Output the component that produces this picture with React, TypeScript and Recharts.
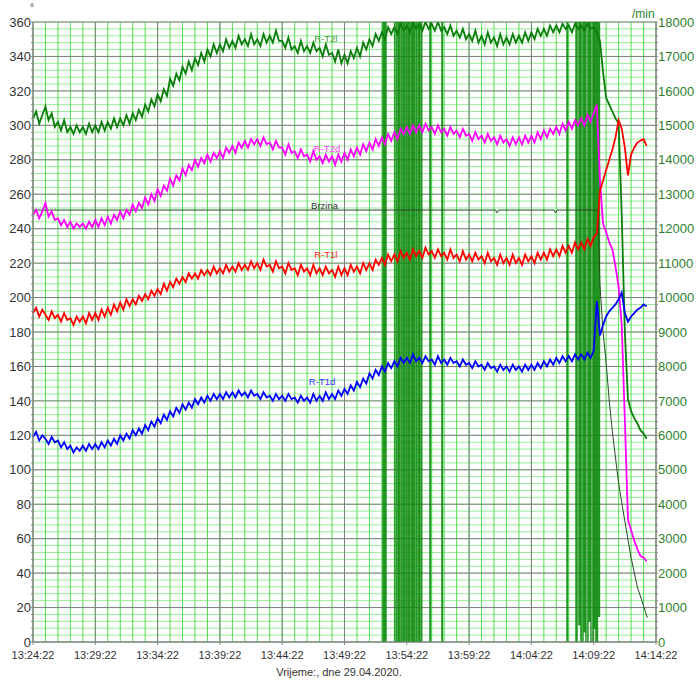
import React from 'react';
import { LineChart, Line, XAxis, YAxis, CartesianGrid, ReferenceDot } from 'recharts';

const FONT = '"Liberation Sans", Arial, sans-serif';

// temperatures (deg), one sample every 15 s from 13:24:22
const T2L = [
  304, 308, 301, 306, 311, 303, 307, 299, 302, 297, 303, 296, 299, 295, 300, 296,
  299, 295, 301, 296, 300, 296, 302, 297, 302, 298, 304, 299, 304, 300, 306, 301,
  307, 303, 309, 305, 312, 308, 315, 311, 318, 314, 321, 317, 327, 323, 330, 326,
  334, 330, 337, 332, 339, 335, 342, 337, 344, 340, 347, 342, 347, 343, 350, 345,
  349, 345, 352, 347, 350, 346, 353, 347, 350, 346, 353, 348, 352, 348, 355, 349,
  349, 345, 351, 344, 346, 342, 349, 343, 346, 342, 348, 343, 345, 340, 347, 341,
  342, 337, 344, 336, 341, 336, 343, 339, 345, 340, 348, 344, 350, 346, 353, 349,
  354, 350, 357, 353, 357, 353, 359, 355, 358, 354, 360, 356, 359, 355, 360, 356,
  359, 355, 360, 355, 357, 353, 358, 352, 355, 351, 356, 350, 353, 349, 355, 348,
  352, 347, 354, 348, 351, 346, 353, 347, 351, 347, 353, 348, 352, 348, 354, 349,
  354, 350, 356, 352, 356, 352, 358, 354, 358, 354, 359, 356, 358, 354, 359, 356,
  358, 355, 359, 356, 357, 354, 349, 331, 316, 312, 308, 304, 301, 248, 180, 141,
  134, 130, 127, 123, 121, 118,
];
const T2D = [
  248, 251, 246, 250, 255, 247, 250, 245, 246, 242, 245, 241, 244, 240, 243, 241,
  243, 240, 244, 241, 245, 241, 246, 242, 247, 243, 248, 245, 250, 246, 251, 248,
  254, 250, 255, 252, 258, 254, 260, 256, 263, 259, 265, 262, 269, 265, 271, 268,
  275, 271, 277, 274, 280, 276, 281, 278, 283, 279, 284, 281, 285, 281, 287, 284,
  288, 284, 290, 287, 291, 287, 292, 289, 292, 288, 293, 289, 290, 286, 291, 287,
  287, 283, 289, 284, 285, 281, 286, 282, 283, 279, 285, 280, 282, 278, 283, 279,
  282, 277, 283, 279, 284, 280, 286, 282, 287, 283, 289, 285, 290, 286, 292, 288,
  293, 289, 295, 291, 296, 292, 298, 295, 299, 295, 300, 296, 300, 296, 301, 297,
  299, 295, 300, 296, 298, 294, 299, 295, 297, 293, 298, 294, 295, 291, 296, 292,
  294, 290, 295, 291, 293, 289, 294, 290, 292, 288, 293, 289, 293, 289, 294, 290,
  294, 290, 296, 292, 297, 293, 298, 295, 299, 295, 301, 297, 302, 298, 303, 300,
  304, 300, 306, 302, 307, 312, 268, 243, 238, 232, 228, 218, 206, 184, 129, 71,
  65, 59, 54, 50, 49, 47,
];
const T1L = [
  191, 194, 189, 193, 190, 187, 192, 188, 190, 186, 191, 187, 188, 184, 189, 186,
  189, 185, 191, 187, 191, 187, 193, 189, 194, 190, 196, 192, 197, 193, 199, 195,
  199, 196, 201, 198, 202, 199, 204, 201, 205, 202, 208, 204, 209, 206, 211, 208,
  212, 209, 214, 211, 214, 211, 216, 213, 216, 213, 218, 214, 217, 214, 219, 215,
  218, 215, 220, 216, 219, 216, 221, 217, 220, 216, 222, 218, 219, 215, 221, 217,
  218, 214, 220, 216, 217, 213, 219, 215, 217, 213, 219, 214, 217, 213, 218, 214,
  216, 212, 218, 213, 217, 213, 219, 215, 218, 214, 220, 216, 220, 216, 222, 219,
  223, 219, 225, 221, 225, 221, 227, 223, 226, 222, 228, 224, 227, 223, 229, 225,
  227, 223, 228, 224, 226, 222, 228, 223, 225, 221, 227, 222, 225, 221, 226, 222,
  224, 220, 226, 221, 223, 219, 225, 220, 223, 219, 225, 220, 223, 219, 225, 221,
  224, 220, 226, 222, 226, 222, 228, 224, 228, 224, 230, 226, 230, 226, 232, 228,
  232, 228, 234, 230, 235, 237, 262, 268, 274, 280, 286, 293, 303, 298, 287, 271,
  283, 287, 290, 291, 292, 288,
];
const T1D = [
  119, 122, 117, 120, 118, 115, 119, 116, 117, 113, 116, 112, 114, 110, 113, 111,
  114, 111, 115, 112, 115, 112, 116, 113, 117, 114, 118, 115, 120, 117, 121, 118,
  123, 120, 124, 121, 126, 123, 128, 125, 130, 127, 132, 129, 134, 131, 136, 133,
  138, 135, 139, 136, 141, 138, 142, 139, 143, 140, 144, 141, 144, 141, 145, 142,
  145, 142, 146, 143, 145, 142, 146, 143, 144, 141, 145, 142, 143, 140, 144, 141,
  143, 140, 144, 141, 142, 139, 143, 140, 142, 139, 144, 140, 143, 140, 145, 141,
  144, 141, 146, 143, 147, 144, 149, 146, 151, 148, 153, 150, 156, 153, 158, 155,
  160, 157, 162, 159, 163, 160, 165, 162, 165, 162, 167, 163, 165, 162, 166, 163,
  164, 161, 166, 162, 164, 161, 165, 162, 163, 160, 164, 161, 162, 159, 163, 160,
  161, 158, 162, 159, 160, 157, 161, 158, 160, 157, 161, 158, 160, 157, 161, 158,
  161, 158, 162, 159, 163, 160, 164, 161, 165, 162, 166, 163, 166, 163, 167, 164,
  167, 164, 168, 165, 169, 198, 178, 184, 189, 192, 194, 196, 199, 203, 191, 186,
  189, 191, 193, 194, 196, 195,
];

// speed (/min)
const BRZ_T = [0, 37.15, 37.2, 37.3, 37.35, 41.85, 41.9, 42.0, 42.05, 45.35, 45.5, 45.75, 46.0, 46.25, 46.5, 47.0, 47.5, 48.0, 48.5, 49.0, 49.3];
const BRZ_V = [12540, 12540, 12470, 12480, 12540, 12540, 12470, 12480, 12540, 12540, 10400, 9000, 8100, 7000, 6100, 4600, 3500, 2450, 1600, 1050, 700];

// R-T2l signal dropouts (minutes from start)
const DROP_START = [28.09, 28.29, 29.05, 29.33, 29.46, 29.73, 29.86, 30.14, 30.26, 30.5, 30.66, 30.94, 31.06, 31.86, 32.82,
  42.86, 43.58, 43.82, 43.98, 44.26, 44.38, 44.66, 44.78, 45.02, 45.18, 45.42];
const DROP_END = [28.17, 28.33, 29.2, 29.38, 29.6, 29.78, 30.0, 30.18, 30.4, 30.54, 30.8, 30.98, 31.2, 31.9, 32.86,
  42.9, 43.66, 43.86, 44.14, 44.3, 44.54, 44.7, 44.94, 45.06, 45.3, 45.46];
const DROP_LOW = [0, 0, 0, 0, 0, 0, 0, 0, 0, 0, 0, 0, 0, 0, 0,
  0, 0, 10, 0, 6, 0, 12, 0, 8, 0, 15];

const X_TICKS = [0, 5, 10, 15, 20, 25, 30, 35, 40, 45, 50];
const X_MINOR = Array.from({ length: 51 }, (_, i) => i);
const DEG_MAJOR = Array.from({ length: 19 }, (_, i) => i * 20);
const DEG_MINOR = Array.from({ length: 91 }, (_, i) => i * 4);
const RPM_MINOR = Array.from({ length: 91 }, (_, i) => i * 200);

const START_SEC = 13 * 3600 + 24 * 60 + 22;
const pad = (n: number) => String(n).padStart(2, '0');
const fmtTime = (t: number) => {
  const s = START_SEC + Math.round(t * 60);
  return `${pad(Math.floor(s / 3600))}:${pad(Math.floor((s % 3600) / 60))}:${pad(s % 60)}`;
};

const tempRows = T2L.map((v, i) => ({ t: i * 0.25, t2l: v, t2d: T2D[i], t1l: T1L[i], t1d: T1D[i] }));
const brzRows = BRZ_T.map((t, i) => ({ t, v: BRZ_V[i] }));
const dropRows: { t: number; v: number | null }[] = [];
DROP_START.forEach((s, i) => {
  const e = DROP_END[i];
  dropRows.push({ t: s, v: 360 }, { t: s, v: DROP_LOW[i] }, { t: e, v: DROP_LOW[i] }, { t: e, v: 360 }, { t: e, v: null });
});

const toPx = (axis: any, v: number) => {
  const s = axis?.scale;
  if (typeof s === 'function') return s(v);
  if (s && typeof s.map === 'function') return s.map(v);
  return NaN;
};
const vGen = (vals: number[]) => ({ xAxis }: any) => vals.map((v) => toPx(xAxis, v)).filter((p) => Number.isFinite(p));
const hGen = (vals: number[]) => ({ yAxis }: any) => vals.map((v) => toPx(yAxis, v)).filter((p) => Number.isFinite(p));

const labelStyle = (fill: string) => ({ fill, fontSize: 9.5, fontFamily: FONT });

export default function App() {
  return (
    <div style={{ position: 'absolute', left: 0, top: 0, width: 696, height: 682, fontFamily: FONT }}>
      <LineChart width={696} height={682} data={tempRows} margin={{ top: 22, right: 0, bottom: 0, left: 0 }}>
        {/* pale horizontal minors, brighter vertical minors, grey majors */}
        <CartesianGrid
          yAxisId="deg"
          stroke="#98ec98"
          vertical={false}
          horizontalCoordinatesGenerator={hGen(DEG_MINOR)}
        />
        <CartesianGrid
          yAxisId="deg"
          stroke="#52de52"
          horizontal={false}
          verticalCoordinatesGenerator={vGen(X_MINOR)}
        />
        <CartesianGrid
          yAxisId="deg"
          stroke="#808080"
          verticalCoordinatesGenerator={vGen(X_TICKS)}
          horizontalCoordinatesGenerator={hGen(DEG_MAJOR)}
        />
        <XAxis
          type="number"
          dataKey="t"
          domain={[0, 50]}
          ticks={X_TICKS}
          interval={0}
          tickFormatter={fmtTime}
          height={40}
          stroke="#888"
          tickSize={3}
          tickMargin={6}
          tick={{ fill: '#333', fontSize: 11, fontFamily: FONT }}
        />
        <YAxis
          yAxisId="deg"
          domain={[0, 360]}
          allowDataOverflow
          ticks={DEG_MINOR}
          interval={0}
          tickFormatter={(v: number) => (v % 20 === 0 ? String(v) : '')}
          width={33}
          stroke="#888"
          tickSize={2}
          tickMargin={0}
          tick={{ fill: '#333', fontSize: 13, fontFamily: FONT }}
        />
        <YAxis
          yAxisId="rpm"
          orientation="right"
          domain={[0, 18000]}
          allowDataOverflow
          ticks={RPM_MINOR}
          interval={0}
          tickFormatter={(v: number) => (v % 1000 === 0 ? String(v) : '')}
          width={40}
          stroke="#888"
          tickSize={2}
          tickMargin={0}
          tick={{ fill: '#2f7f2f', fontSize: 13, fontFamily: FONT }}
        />
        <Line yAxisId="deg" data={dropRows} dataKey="v" stroke="#0a8a0a" strokeWidth={1.5} strokeOpacity={0.9} dot={false} connectNulls={false} isAnimationActive={false} />
        <Line yAxisId="rpm" data={brzRows} dataKey="v" stroke="#284a28" strokeWidth={1} dot={false} isAnimationActive={false} />
        <Line yAxisId="deg" dataKey="t2l" stroke="#0a7d0a" strokeWidth={1.8} dot={false} isAnimationActive={false} />
        <Line yAxisId="deg" dataKey="t2d" stroke="#ff00ff" strokeWidth={1.8} dot={false} isAnimationActive={false} />
        <Line yAxisId="deg" dataKey="t1l" stroke="#ff0000" strokeWidth={1.8} dot={false} isAnimationActive={false} />
        <Line yAxisId="deg" dataKey="t1d" stroke="#0000ff" strokeWidth={1.8} dot={false} isAnimationActive={false} />
        <ReferenceDot yAxisId="deg" x={23.5} y={350.5} r={0} fill="none" stroke="none" label={{ value: 'R-T2l', position: 'center', ...labelStyle('#3c9a3c') }} />
        <ReferenceDot yAxisId="deg" x={23.6} y={286.6} r={0} fill="none" stroke="none" label={{ value: 'R-T2d', position: 'center', ...labelStyle('#ff40ff') }} />
        <ReferenceDot yAxisId="deg" x={23.4} y={253.6} r={0} fill="none" stroke="none" label={{ value: 'Brzina', position: 'center', ...labelStyle('#333') }} />
        <ReferenceDot yAxisId="deg" x={23.5} y={225} r={0} fill="none" stroke="none" label={{ value: 'R-T1l', position: 'center', ...labelStyle('#ff2020') }} />
        <ReferenceDot yAxisId="deg" x={23.2} y={151.3} r={0} fill="none" stroke="none" label={{ value: 'R-T1d', position: 'center', ...labelStyle('#3030ff') }} />
      </LineChart>
      <span style={{ position: 'absolute', left: 30, top: 2, fontSize: 10, color: '#333' }}>°</span>
      <span style={{ position: 'absolute', left: 632, top: 7, fontSize: 12, color: '#2f7f2f' }}>/min</span>
      <div style={{ position: 'absolute', left: 239, width: 200, top: 666, textAlign: 'center', fontSize: 11, color: '#333' }}>
        Vrijeme:, dne 29.04.2020.
      </div>
    </div>
  );
}
